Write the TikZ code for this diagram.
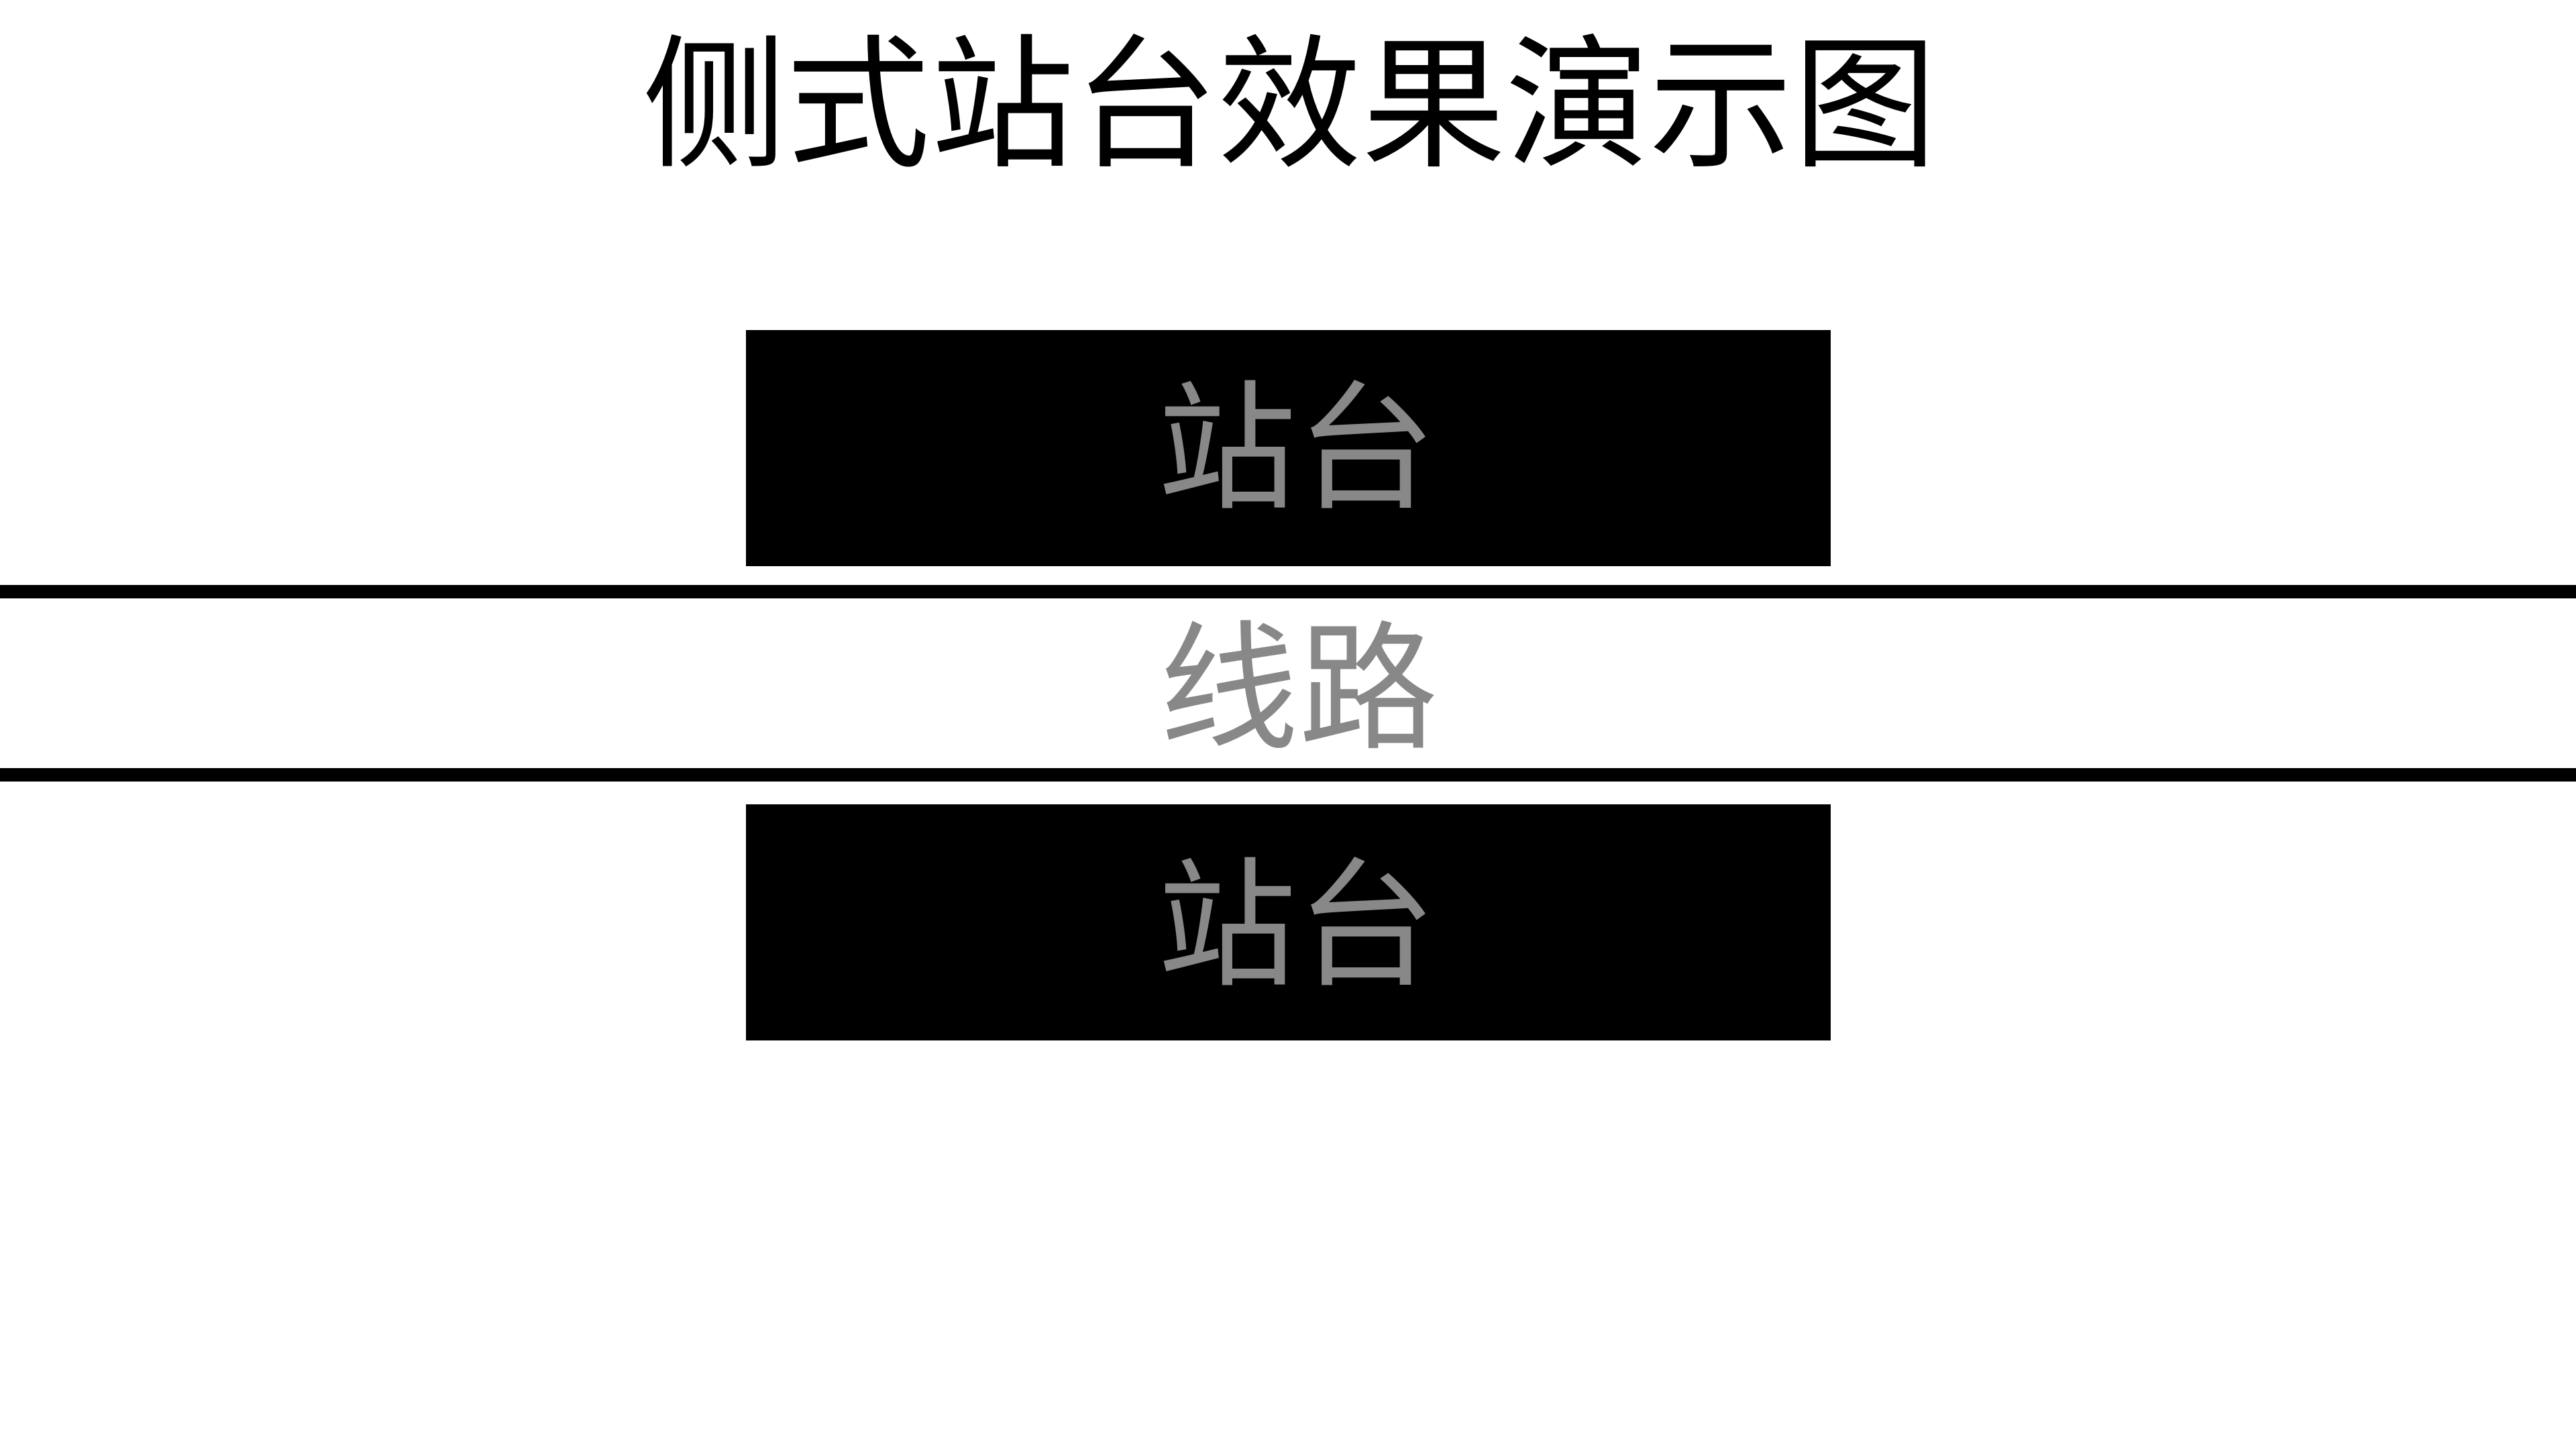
\documentclass[tikz,border=0pt]{standalone}
\usepackage{fontspec}
\setmainfont{Noto Sans CJK SC}
\definecolor{labelgray}{HTML}{888888}
\begin{document}
\begin{tikzpicture}[
  titletext/.style={font=\fontsize{61}{73}\selectfont, text=black, inner sep=0pt},
  platform/.style={fill=black, draw=none, minimum width=16.17cm, minimum height=3.52cm, inner sep=0pt},
  platlabel/.style={font=\fontsize{59}{71}\selectfont, text=labelgray, inner sep=0pt},
  tracktext/.style={font=\fontsize{59}{71}\selectfont, text=labelgray, inner sep=0pt},
  rail/.style={line width=0.2cm, draw=black}
]
\useasboundingbox (0,0) rectangle (38.4,-21.6);
\node[titletext] (title) at (19.23,-1.5) {侧式站台效果演示图};
\node[platform] (topplat) at (19.205,-6.68) {};
\node[platlabel] (toplabel) at (19.33,-6.62) {站台};
\coordinate (railAw) at (0,-8.82);
\coordinate (railAe) at (38.4,-8.82);
\draw[rail] (railAw) -- (railAe);
\node[tracktext] (track) at (19.36,-10.2) {线路};
\coordinate (railBw) at (0,-11.545);
\coordinate (railBe) at (38.4,-11.545);
\draw[rail] (railBw) -- (railBe);
\node[platform] (botplat) at (19.205,-13.75) {};
\node[platlabel] (botlabel) at (19.33,-13.73) {站台};
\end{tikzpicture}
\end{document}
